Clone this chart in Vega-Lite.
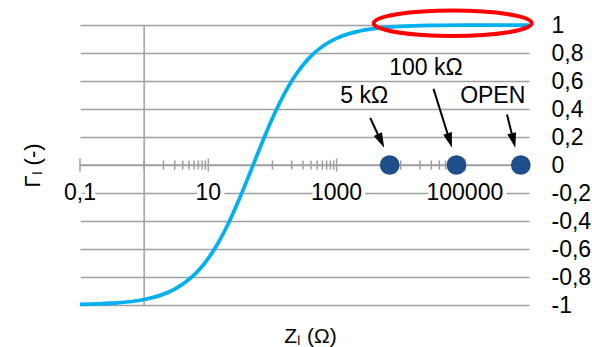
{
  "$schema": "https://vega.github.io/schema/vega-lite/v6.json",
  "width": 449,
  "height": 280,
  "autosize": "none",
  "padding": {"left": 80, "top": 25, "right": 63, "bottom": 42},
  "background": "white",
  "config": {"font": "Liberation Sans", "view": {"stroke": null}},
  "title": {"text": "Zₗ (Ω)", "orient": "bottom", "anchor": "middle", "frame": "group", "offset": 9, "fontSize": 21, "fontWeight": "normal", "color": "black", "font": "Liberation Sans", "dx": 6, "baseline": "top"},
  "datasets": {
    "curve": [
      {"z": 0.1, "g": -0.996}, {"z": 0.316, "g": -0.9874}, {"z": 1, "g": -0.9608},
      {"z": 1.78, "g": -0.9312}, {"z": 3.16, "g": -0.8811}, {"z": 5.62, "g": -0.7979},
      {"z": 7.5, "g": -0.7391}, {"z": 10, "g": -0.6667}, {"z": 13.3, "g": -0.5798},
      {"z": 17.8, "g": -0.4749}, {"z": 23.7, "g": -0.3569}, {"z": 31.6, "g": -0.2255},
      {"z": 42.2, "g": -0.0846}, {"z": 56.2, "g": 0.0584}, {"z": 75, "g": 0.2},
      {"z": 100, "g": 0.3333}, {"z": 133, "g": 0.4536}, {"z": 178, "g": 0.5614},
      {"z": 237, "g": 0.6516}, {"z": 316, "g": 0.7268}, {"z": 422, "g": 0.7881},
      {"z": 562, "g": 0.8366}, {"z": 750, "g": 0.875}, {"z": 1000, "g": 0.9048},
      {"z": 1778, "g": 0.9453}, {"z": 3162, "g": 0.9689}, {"z": 5623, "g": 0.9824},
      {"z": 10000, "g": 0.99}, {"z": 31623, "g": 0.9968}, {"z": 100000, "g": 0.999},
      {"z": 1000000, "g": 0.9999}
    ],
    "minor": [
      {"z": 1}, {"z": 2}, {"z": 3}, {"z": 4}, {"z": 5}, {"z": 6}, {"z": 7}, {"z": 8}, {"z": 9},
      {"z": 100}, {"z": 200}, {"z": 300}, {"z": 400}, {"z": 500}, {"z": 600}, {"z": 700}, {"z": 800}, {"z": 900},
      {"z": 10000}, {"z": 20000}, {"z": 30000}, {"z": 40000}, {"z": 50000}, {"z": 60000}, {"z": 70000}, {"z": 80000}, {"z": 90000}
    ],
    "major": [{"z": 0.1}, {"z": 10}, {"z": 1000}, {"z": 100000}],
    "xlabels": [
      {"z": 0.1, "g": -0.2, "label": "0,1"},
      {"z": 10, "g": -0.2, "label": "10"},
      {"z": 1000, "g": -0.2, "label": "1000"},
      {"z": 100000, "g": -0.2, "label": "100000"}
    ],
    "arrows": [
      {"name": "5k", "x": 3342, "y": 0.337, "x2": 4963, "y2": 0.168, "tx": 5527, "ty": 0.123},
      {"name": "100k", "x": 32490, "y": 0.544, "x2": 58300, "y2": 0.171, "tx": 62900, "ty": 0.123},
      {"name": "open", "x": 453800, "y": 0.361, "x2": 575000, "y2": 0.171, "tx": 611400, "ty": 0.123}
    ],
    "points": [{"z": 6730, "g": 0}, {"z": 73900, "g": 0}, {"z": 745000, "g": 0}],
    "ellipse": [{"z": 64700, "g": 1.013}],
    "notes": [
      {"z": 2700, "g": 0.49, "text": "5 kΩ"},
      {"z": 24800, "g": 0.691, "text": "100 kΩ"},
      {"z": 272000, "g": 0.49, "text": "OPEN"}
    ]
  },
  "resolve": {"axis": {"y": "independent"}},
  "layer": [
    {
      "data": {"values": [{}]},
      "mark": {"type": "rule", "color": "#a0a0a0", "strokeWidth": 1.5},
      "encoding": {
        "y": {
          "datum": 0, "type": "quantitative",
          "scale": {"domain": [-1, 1], "nice": false, "zero": false},
          "axis": {
            "orient": "right",
            "values": [-1, -0.8, -0.6, -0.4, -0.2, 0, 0.2, 0.4, 0.6, 0.8, 1],
            "labelExpr": "replace(toString(datum.value), '.', ',')",
            "labelFontSize": 23, "labelColor": "black", "labelPadding": 22,
            "labelAlign": "left", "labelBaseline": "middle",
            "labelFlush": false, "labelOverlap": false, "labelBound": false,
            "ticks": false, "domain": false,
            "grid": true, "gridColor": "#a0a0a0", "gridWidth": 1.5,
            "title": null
          }
        }
      }
    },
    {
      "data": {"values": [{}]},
      "mark": {"type": "rule", "color": "#a0a0a0", "strokeWidth": 1.5},
      "encoding": {
        "x": {"datum": 1, "type": "quantitative", "scale": {"type": "log", "domain": [0.1, 1000000], "nice": false}, "axis": null}
      }
    },
    {
      "data": {"name": "minor"},
      "mark": {"type": "rule", "color": "#a0a0a0", "strokeWidth": 1.5},
      "encoding": {
        "x": {"field": "z", "type": "quantitative", "scale": {"type": "log", "domain": [0.1, 1000000], "nice": false}, "axis": null},
        "y": {"datum": -0.033, "type": "quantitative", "scale": {"domain": [-1, 1], "nice": false, "zero": false}, "axis": null},
        "y2": {"datum": 0.033}
      }
    },
    {
      "data": {"name": "major"},
      "mark": {"type": "rule", "color": "#a0a0a0", "strokeWidth": 1.5},
      "encoding": {
        "x": {"field": "z", "type": "quantitative", "scale": {"type": "log", "domain": [0.1, 1000000], "nice": false}, "axis": null},
        "y": {"datum": -0.047, "type": "quantitative", "scale": {"domain": [-1, 1], "nice": false, "zero": false}, "axis": null},
        "y2": {"datum": 0.047}
      }
    },
    {
      "data": {"name": "curve"},
      "mark": {"type": "line", "color": "#00b0f0", "strokeWidth": 3.75, "interpolate": "monotone"},
      "encoding": {
        "x": {
          "field": "z", "type": "quantitative",
          "scale": {"type": "log", "domain": [0.1, 1000000], "nice": false},
          "axis": null
        },
        "y": {
          "field": "g", "type": "quantitative",
          "scale": {"domain": [-1, 1], "nice": false, "zero": false},
          "axis": {"orient": "left", "title": "Γₗ (-)", "labels": false, "ticks": false, "domain": false, "grid": false,
                   "titleFontSize": 22, "titleFontWeight": "normal", "titleColor": "black", "titlePadding": 36}
        }
      }
    },
    {
      "data": {"name": "xlabels"},
      "mark": {"type": "text", "fontSize": 23, "fill": "white", "stroke": "white", "strokeWidth": 8, "strokeJoin": "round", "align": "center", "baseline": "middle"},
      "encoding": {
        "x": {"field": "z", "type": "quantitative", "scale": {"type": "log", "domain": [0.1, 1000000], "nice": false}, "axis": null},
        "y": {"field": "g", "type": "quantitative", "scale": {"domain": [-1, 1], "nice": false, "zero": false}, "axis": null},
        "text": {"field": "label"}
      }
    },
    {
      "data": {"name": "xlabels"},
      "mark": {"type": "text", "fontSize": 23, "color": "black", "align": "center", "baseline": "middle"},
      "encoding": {
        "x": {"field": "z", "type": "quantitative", "scale": {"type": "log", "domain": [0.1, 1000000], "nice": false}, "axis": null},
        "y": {"field": "g", "type": "quantitative", "scale": {"domain": [-1, 1], "nice": false, "zero": false}, "axis": null},
        "text": {"field": "label"}
      }
    },
    {
      "data": {"name": "arrows"},
      "mark": {"type": "rule", "color": "black", "strokeWidth": 2},
      "encoding": {
        "x": {"field": "x", "type": "quantitative", "scale": {"type": "log", "domain": [0.1, 1000000], "nice": false}, "axis": null},
        "y": {"field": "y", "type": "quantitative", "scale": {"domain": [-1, 1], "nice": false, "zero": false}, "axis": null},
        "x2": {"field": "x2"},
        "y2": {"field": "y2"}
      }
    },
    {
      "data": {"name": "arrows"},
      "transform": [{"filter": "datum.name === '5k'"}],
      "mark": {"type": "point", "shape": "M0,0L-0.3,-1L0.3,-1Z", "size": 900, "filled": true, "color": "black", "opacity": 1, "angle": -25},
      "encoding": {
        "x": {"field": "tx", "type": "quantitative", "scale": {"type": "log", "domain": [0.1, 1000000], "nice": false}, "axis": null},
        "y": {"field": "ty", "type": "quantitative", "scale": {"domain": [-1, 1], "nice": false, "zero": false}, "axis": null}
      }
    },
    {
      "data": {"name": "arrows"},
      "transform": [{"filter": "datum.name === '100k'"}],
      "mark": {"type": "point", "shape": "M0,0L-0.3,-1L0.3,-1Z", "size": 900, "filled": true, "color": "black", "opacity": 1, "angle": -17},
      "encoding": {
        "x": {"field": "tx", "type": "quantitative", "scale": {"type": "log", "domain": [0.1, 1000000], "nice": false}, "axis": null},
        "y": {"field": "ty", "type": "quantitative", "scale": {"domain": [-1, 1], "nice": false, "zero": false}, "axis": null}
      }
    },
    {
      "data": {"name": "arrows"},
      "transform": [{"filter": "datum.name === 'open'"}],
      "mark": {"type": "point", "shape": "M0,0L-0.3,-1L0.3,-1Z", "size": 900, "filled": true, "color": "black", "opacity": 1, "angle": -14},
      "encoding": {
        "x": {"field": "tx", "type": "quantitative", "scale": {"type": "log", "domain": [0.1, 1000000], "nice": false}, "axis": null},
        "y": {"field": "ty", "type": "quantitative", "scale": {"domain": [-1, 1], "nice": false, "zero": false}, "axis": null}
      }
    },
    {
      "data": {"name": "points"},
      "mark": {"type": "point", "shape": "circle", "size": 390, "filled": true, "color": "#1f4e8a", "opacity": 1},
      "encoding": {
        "x": {"field": "z", "type": "quantitative", "scale": {"type": "log", "domain": [0.1, 1000000], "nice": false}, "axis": null},
        "y": {"field": "g", "type": "quantitative", "scale": {"domain": [-1, 1], "nice": false, "zero": false}, "axis": null}
      }
    },
    {
      "data": {"name": "ellipse"},
      "mark": {"type": "point", "shape": "M-1,0C-1,-0.0889,-0.5523,-0.161,0,-0.161C0.5523,-0.161,1,-0.0889,1,0C1,0.0889,0.5523,0.161,0,0.161C-0.5523,0.161,-1,0.0889,-1,0Z", "size": 24964, "filled": false, "stroke": "#ff0000", "strokeWidth": 4, "opacity": 1},
      "encoding": {
        "x": {"field": "z", "type": "quantitative", "scale": {"type": "log", "domain": [0.1, 1000000], "nice": false}, "axis": null},
        "y": {"field": "g", "type": "quantitative", "scale": {"domain": [-1, 1], "nice": false, "zero": false}, "axis": null}
      }
    },
    {
      "data": {"name": "notes"},
      "mark": {"type": "text", "fontSize": 23, "color": "black", "align": "center", "baseline": "middle"},
      "encoding": {
        "x": {"field": "z", "type": "quantitative", "scale": {"type": "log", "domain": [0.1, 1000000], "nice": false}, "axis": null},
        "y": {"field": "g", "type": "quantitative", "scale": {"domain": [-1, 1], "nice": false, "zero": false}, "axis": null},
        "text": {"field": "text"}
      }
    }
  ]
}
